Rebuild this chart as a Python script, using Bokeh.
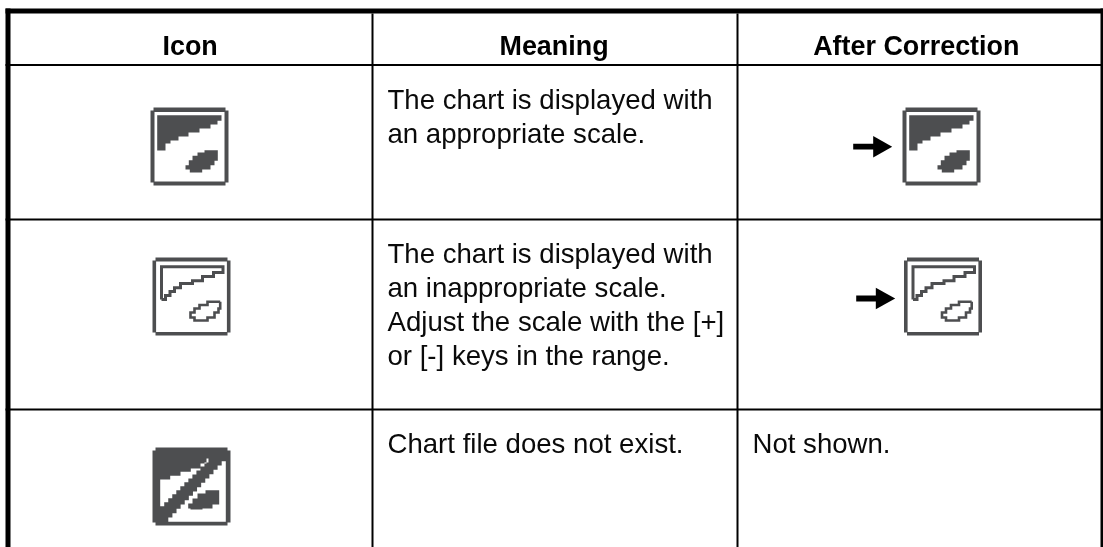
from bokeh.plotting import figure
from bokeh.models import Range1d
from bokeh.core.properties import value
from bokeh.embed import file_html
from bokeh.resources import INLINE

W, H = 1103, 547
INK = "#000000"
GRAY = "#4d4e50"
FONT = "Liberation Sans"

headers = ["Icon", "Meaning", "After Correction"]
header_x = [162, 499, 812.7]
header_y = 45
row1_text = ["The chart is displayed with", "an appropriate scale."]
row2_text = ["The chart is displayed with", "an inappropriate scale.", "Adjust the scale with the [+]", "or [-] keys in the range."]
row3_text = ["Chart file does not exist."]
row_baselines = [99, 252.7, 442.7]
line_step = 34
col2_x = 387
col3_x = 752
col3_note = "Not shown."

col_lines = [372, 737]
row_lines = [64.5, 219, 409]

icon_size = 78
shade = [(6.7,7.7),(71,7.7),(71,13.3),(67,13.3),(67,17),(60,17),(60,21),(49,21),(49,25),(38,25),(38,29),(28,29),(28,33),(20,33),(20,36),(15,36),(15,43),(6.7,43)]
blob = [(67.3,42.7),(54,42.7),(54,45),(47,45),(47,48.3),(42,48.3),(42,52.7),(38.3,52.7),(38.3,57.7),(35,57.7),(35,62),(39.3,62),(39.3,65),(51.7,65),(51.7,62),(60,62),(60,57.7),(64,57.7),(64,53.3),(67.3,53.3)]
coast_line = [(9,42),(9,9.3),(70.5,9.3),(70.5,15),(61,15),(61,19),(50,19),(50,23.3),(40,23.3),(40,26),(28,26),(28,30.3),(22,30.3),(22,34),(17.5,34),(17.5,38),(13,38),(13,42),(9,42)]
blob_line = [(67.7,44.3),(55,44.3),(55,47.5),(47,47.5),(47,51),(42,51),(42,55),(38,55),(38,60),(42,60),(42,63),(55,63),(55,60),(62,60),(62,55),(66,55),(66,51),(67.7,51),(67.7,44.3)]
blob3 = [(66.7,42.7),(53,42.7),(53,46),(45,46),(45,51),(40,51),(40,56),(35.7,56),(35.7,61),(38,61),(38,62),(50,62),(50,61),(60,61),(60,57),(66.7,57)]
white_ul_head = [(7.7,32),(17.7,32),(17.7,28.3),(28,28.3),(28,24.3),(38.3,24.3),(38.3,21),(48,21),(48,16),(54,16),(54,11),(60,11)]
white_ul_end = (7.7,62.7)
white_lr_start = (73.3,9.3)
white_lr_end = (11.7,74.3)
white_lr_tail = [(73.3,74.3)]

icon_fill_origins = [(150,107),(902,107)]
icon_line_origins = [(152,257),(903.5,257)]
icon_nofile_origin = (152,447)
arrows = [(852.7,146.2,872.7,891.7,10.8,2.9),(855.7,298,875.3,894.7,10.7,3)]

p = figure(width=W, height=H, x_range=Range1d(0, W), y_range=Range1d(H, 0),
           x_axis_location=None, y_axis_location=None, toolbar_location=None,
           output_backend="svg", min_border=0, outline_line_color=None,
           background_fill_color="white", border_fill_color="white")
p.grid.visible = False
p.styles = {"position": "fixed", "left": "0px", "top": "0px"}


def stair(a, b, n, down_first=False):
    out = []
    for i in range(1, n + 1):
        x0 = a[0] + (b[0] - a[0]) * (i - 1) / n
        x1 = a[0] + (b[0] - a[0]) * i / n
        y0 = a[1] + (b[1] - a[1]) * (i - 1) / n
        y1 = a[1] + (b[1] - a[1]) * i / n
        out += [(x0, y1), (x1, y1)] if down_first else [(x1, y0), (x1, y1)]
    return out


def poly(points, origin, color):
    p.patch([origin[0] + q[0] for q in points], [origin[1] + q[1] for q in points],
            fill_color=color, line_color=None)


def pline(points, origin, width=3.0):
    p.line([origin[0] + q[0] for q in points], [origin[1] + q[1] for q in points],
           line_color=GRAY, line_width=width, line_join="miter")


def frame(origin, t=4):
    s, c = icon_size, 3
    poly([(c,0),(s-c,0),(s-c,c),(s,c),(s,s-c),(s-c,s-c),(s-c,s),(c,s),(c,s-c),(0,s-c),(0,c),(c,c)], origin, GRAY)
    poly([(t,t+0.5),(s-t,t+0.5),(s-t,s-t),(t,s-t)], origin, "white")


# table rules
for y in row_lines:
    p.quad(left=5, right=W, top=y - 1.1, bottom=y + 1.1, fill_color=INK, line_color=None)
for x in col_lines:
    p.quad(left=x - 1, right=x + 1, top=13, bottom=H, fill_color=INK, line_color=None)
p.quad(left=5, right=W, top=8, bottom=13, fill_color=INK, line_color=None)
p.quad(left=5, right=10, top=8, bottom=H, fill_color=INK, line_color=None)
p.quad(left=1100, right=W, top=8, bottom=H, fill_color=INK, line_color=None)

# icons
for o in icon_fill_origins:
    frame(o)
    poly(shade, o, GRAY)
    poly(blob, o, GRAY)
for o in icon_line_origins:
    frame(o, t=3.6)
    pline(coast_line, o)
    pline(blob_line, o, 2.6)
o = icon_nofile_origin
s, c = icon_size, 3
poly([(c,0),(s-c,0),(s-c,c),(s,c),(s,s-c),(s-c,s-c),(s-c,s),(c,s),(c,s-c),(0,s-c),(0,c),(c,c)], o, GRAY)
poly(white_ul_head + stair(white_ul_head[-1], white_ul_end, 13), o, "white")
poly([white_lr_start] + stair(white_lr_start, white_lr_end, 15, down_first=True) + white_lr_tail, o, "white")
poly(blob3, o, GRAY)

# arrows
for x0, yc, xh, xt, hh, st in arrows:
    p.quad(left=x0, right=xh + 1, top=yc - st, bottom=yc + st, fill_color=INK, line_color=None)
    p.patch([xh, xt, xh], [yc - hh, yc, yc + hh], fill_color=INK, line_color=None)

# texts
p.text(x=header_x, y=[header_y] * 3, text=headers, text_font=value(FONT), text_font_style="bold",
       text_font_size="26.9px", text_color=INK, text_baseline="alphabetic", text_align="left")
for lines, b in zip([row1_text, row2_text, row3_text], row_baselines):
    p.text(x=[col2_x] * len(lines), y=[b + i * line_step for i in range(len(lines))], text=lines,
           text_font=value(FONT), text_font_size="27.6px", text_color="#0a0a0a",
           text_baseline="alphabetic", text_align="left")
p.text(x=[col3_x], y=[row_baselines[2]], text=[col3_note], text_font=value(FONT),
       text_font_size="27.6px", text_color="#0a0a0a", text_baseline="alphabetic", text_align="left")

open("out.html", "w").write(file_html(p, INLINE))
